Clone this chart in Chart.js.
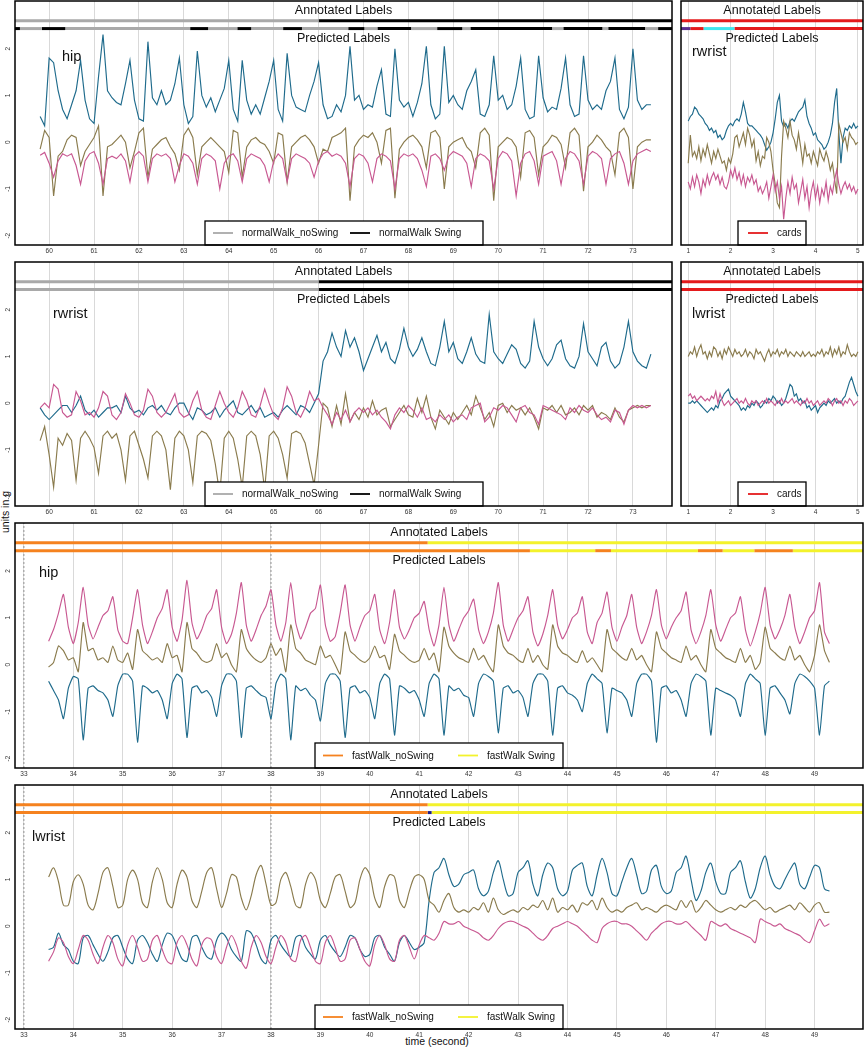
<!DOCTYPE html>
<html>
<head>
<meta charset="utf-8">
<script src="https://cdn.jsdelivr.net/npm/chart.js@4.4.1/dist/chart.umd.min.js"></script>
<style>
  html, body { margin: 0; padding: 0; background: #fff; }
  #page { position: relative; width: 866px; height: 1050px; overflow: hidden;
          font-family: "Liberation Sans", Arial, Helvetica, sans-serif; color: #111; }
  #ytitle { position: absolute; left: -35px; top: 505px; width: 80px; height: 14px; line-height: 14px;
            text-align: center; font-size: 10.5px; transform: rotate(-90deg); }
  #xtitle { position: absolute; left: 387px; top: 1035px; width: 100px; text-align: center; font-size: 10.5px; }
</style>
</head>
<body>
<div id="page">
  <div id="ytitle">units in g</div>
  <div id="xtitle">time (second)</div>
</div>
<script>
// Accelerometer traces, values in hundredths of g, one row per second (or half second)

// hip, normal walk, from 59.8 s every 0.1 s
const hipNormalBlue = [
  55, 35,
  180, 170, 110, 70, 50, 80, 110, 175, 90, 50,
  40, 140, 230, 110, 95, 85, 80, 125, 175, 90,
  50, 45, 215, 95, 80, 110, 80, 90, 125, 180,
  80, 40, 55, 195, 100, 75, 95, 65, 90, 115,
  175, 70, 45, 175, 90, 60, 80, 60, 95, 130,
  175, 70, 45, 190, 100, 75, 70, 65, 100, 130,
  170, 80, 50, 55, 80, 65, 100, 205, 90, 100,
  70, 80, 75, 120, 155, 60, 55, 200, 90, 75,
  85, 55, 85, 125, 205, 80, 50, 60, 205, 85,
  100, 80, 70, 110, 130, 155, 60, 55, 80, 185,
  90, 100, 70, 80, 120, 180, 70, 50, 55, 185,
  95, 65, 75, 70, 115, 180, 80, 55, 60, 185,
  90, 70, 80, 70, 110, 130, 180, 70, 50, 75,
  200, 90, 70, 80, 80
];
const hipNormalOlive = [
  -15, 25,
  10, -115, -30, -20, 5, 15, 10, -50, -20, -5,
  10, 35, -115, -10, -5, 5, 15, 0, -55, -20,
  20, 30, -75, -15, -5, 5, 10, -10, -25, -60,
  15, 30, 10, -70, -10, 0, 10, 0, -10, -20,
  -65, 25, 20, -75, -10, 5, 10, 0, -5, -20,
  -45, 20, 15, -85, -10, 0, 10, 15, 5, -10,
  -45, -15, -20, 10, 15, 20, 30, -125, -10, 5,
  15, 10, 20, 0, -45, 25, 30, -120, -15, 0,
  10, 15, 5, -10, -55, 20, 25, 10, -100, -10,
  0, 5, 10, -10, -20, -55, 20, 30, 15, -125,
  -10, 0, 10, 5, -10, -75, 20, 25, 10, -70,
  -10, 0, 15, 10, -5, -55, 20, 30, 15, -105,
  -10, 0, 15, 5, -10, -20, -70, 20, 30, 10,
  -100, -10, 0, 5, 5
];
const hipNormalPink = [
  -28, -22,
  -45, -75, -40, -25, -30, -25, -50, -90, -40, -25,
  -20, -45, -90, -35, -30, -35, -25, -40, -85, -30,
  -20, -30, -85, -35, -25, -30, -25, -35, -85, -50,
  -25, -30, -45, -90, -35, -25, -30, -40, -100, -45,
  -30, -25, -40, -85, -35, -25, -30, -35, -50, -85,
  -40, -25, -35, -85, -35, -25, -30, -35, -45, -75,
  -40, -25, -20, -30, -25, -30, -45, -95, -35, -25,
  -30, -45, -85, -35, -25, -30, -40, -100, -35, -25,
  -30, -25, -35, -60, -95, -30, -25, -35, -60, -30,
  -20, -25, -30, -45, -95, -35, -25, -30, -40, -100,
  -35, -20, -25, -40, -115, -45, -25, -20, -40, -90,
  -30, -25, -20, -40, -90, -35, -20, -25, -40, -90,
  -30, -20, -25, -35, -90, -35, -25, -20, -45, -90,
  -40, -25, -20, -15, -20
];

// right wrist, normal walk, from 59.8 s every 0.1 s
const rwristNormalBlue = [
  -10, -25,
  -35, -25, -15, -5, -5, -20, -5, 15, -15, -25,
  -15, -30, -20, -10, -10, -5, -20, 15, -10, -20,
  -15, -25, -10, -5, -15, -5, -20, -25, -10, 0,
  0, -20, -35, -10, -15, -25, -20, -10, -30, -15,
  -5, 5, -20, -25, -15, -5, -20, -10, -30, -25,
  -20, -30, -15, -5, -15, -25, -5, -10, -20, 0,
  20, 90, 110, 150, 120, 100, 155, 120, 140, 110,
  70, 95, 120, 145, 110, 130, 95, 85, 115, 160,
  120, 100, 115, 140, 110, 85, 80, 120, 175, 110,
  130, 95, 85, 110, 140, 105, 90, 85, 190, 110,
  95, 85, 105, 125, 115, 85, 75, 90, 175, 120,
  95, 80, 95, 125, 135, 95, 80, 75, 100, 170,
  110, 95, 80, 120, 130, 90, 75, 85, 120, 175,
  110, 90, 80, 75, 105
];
const rwristNormalOlive = [
  -80, -50,
  -110, -180, -75, -90, -65, -80, -165, -75, -60, -75,
  -95, -150, -70, -60, -75, -65, -100, -165, -70, -60,
  -90, -120, -160, -70, -60, -70, -100, -185, -75, -60,
  -70, -100, -170, -70, -60, -65, -80, -130, -195, -75,
  -60, -75, -120, -180, -70, -60, -70, -110, -185, -70,
  -60, -75, -110, -160, -65, -60, -65, -85, -130, -175,
  -90, 0, -10, -50, -5, -45, 20, -40, -20, -35,
  -10, -30, 5, -25, -15, -10, -50, -35, -20, -5,
  -25, -30, 10, -20, 15, -30, -55, -15, -30, -45,
  -20, -35, -20, -5, -25, 15, -10, -35, -20, -50,
  -5, 0, -20, -5, -15, -10, -25, -10, -30, -55,
  -10, -15, -5, -20, -5, -25, -20, -10, -25, -5,
  -15, -5, -30, -20, -25, -35, -10, -30, -40, -15,
  -10, -5, -10, -5, -5
];
const rwristNormalPink = [
  -10, 0,
  -10, 40, 30, -20, -30, -25, 25, 5, -25, -20,
  -30, -10, 25, 15, -25, -35, -20, 20, 0, -25,
  -30, -15, 30, 15, -20, -30, -20, 0, 20, -20,
  -30, -25, 5, 25, -15, -30, -35, -5, 25, 0,
  -20, -30, -10, 25, 5, -25, -30, -5, 30, 0,
  -25, -35, -10, 35, 15, -20, -30, -10, 25, 5,
  10, -10, -25, -45, -20, -35, -15, -40, -20, -10,
  -20, -10, -25, -15, -30, -40, -55, -25, -10, -20,
  -5, -15, -30, -10, -35, -30, -40, -25, -35, -25,
  -40, -30, -25, -35, -10, -5, 0, -40, -30, -10,
  -15, -5, -10, -25, -40, -10, -5, -20, -25, -45,
  -5, -10, -15, -20, -25, -35, -10, -20, -5, -15,
  -20, -10, -25, -35, -30, -40, -15, -20, -45, -15,
  -5, -10, -5, -10, -5
];

// right wrist, cards, from 1.0 s every 0.05 s
const rwristCardsBlue = [
  45, 55, 60, 75, 70, 60, 55, 50, 40, 35,
  25, 30, 20, 25, 10, 15, 5, 10, 25, 35,
  40, 35, 45, 50, 45, 60, 85, 65, 40, 35,
  35, 30, 25, 20, 15, 8, -5, -17, -10, 0,
  20, 50, 85, 100, 45, 33, 40, 30, 45, 50,
  45, 55, 65, 70, 75, 90, 55, 40, 30, 15,
  20, 5, 0, -5, -15, -10, 0, 15, 40, 85,
  115, 20, -45, 10, 30, 25, 35, 30, 40, 30,
  35
];
const rwristCardsOlive = [
  -45, 15, -30, -20, -35, -10, -40, -15, -30, -5,
  -25, -45, -20, -35, -15, -30, -45, -40, -60, -35,
  -45, -25, 10, 15, -10, 5, 20, -5, 30, 15,
  -10, 5, -40, -20, -50, -30, -35, 10, 0, -20,
  -60, -90, -130, -140, -30, 45, 30, 10, 45, 15,
  5, -15, 20, -10, -45, -5, -30, -25, -45, -20,
  -35, -50, -15, -30, -40, -20, -35, -60, -45, -80,
  -110, 40, 20, 0, 10, -15, 20, 10, 5, -5,
  0
];
const rwristCardsPink = [
  -85, -100, -75, -95, -70, -85, -110, -80, -95, -70,
  -90, -75, -65, -80, -70, -90, -75, -95, -100, -85,
  -60, -75, -55, -80, -65, -90, -70, -95, -75, -85,
  -70, -90, -80, -105, -95, -110, -100, -85, -120, -95,
  -70, -105, -85, -120, -95, -165, -120, -85, -110, -75,
  -100, -90, -130, -105, -80, -120, -95, -140, -105, -85,
  -120, -95, -130, -100, -115, -85, -125, -95, -110, -80,
  -60, -90, -110, -95, -85, -100, -90, -105, -95, -110,
  -100
];

// left wrist, cards, from 1.0 s every 0.05 s
const lwristCardsBlue = [
  0, 0, 5, 0, 5, 0, -5, -10, -15, -20,
  -15, -10, -15, -5, -10, 5, 10, 20, 25, 30,
  15, 10, 5, 0, -5, -15, -10, -15, -5, -10,
  0, -5, 5, 0, -10, -5, 5, 0, 10, 5,
  15, 10, 0, 5, -5, 0, 10, 25, 40, 35,
  15, 20, 5, 10, 0, 5, -10, -5, -15, -10,
  -5, -20, -10, -5, 0, -5, 5, 0, 5, 10,
  0, 5, 0, 10, 15, 30, 45, 55, 40, 25,
  15
];
const lwristCardsOlive = [
  100, 110, 105, 120, 100, 115, 125, 105, 110, 95,
  110, 100, 120, 115, 100, 110, 95, 115, 105, 120,
  110, 100, 115, 105, 110, 100, 105, 115, 100, 110,
  105, 95, 115, 105, 110, 100, 90, 105, 115, 100,
  110, 105, 115, 100, 110, 105, 115, 100, 110, 105,
  100, 110, 105, 100, 110, 100, 105, 110, 100, 105,
  100, 110, 105, 115, 100, 110, 105, 120, 100, 115,
  105, 120, 100, 110, 105, 125, 110, 100, 105, 100,
  110
];
const lwristCardsPink = [
  15, 20, 10, 15, 5, 10, 15, 10, 5, 10,
  5, 15, 10, 25, 0, 20, 5, -5, 0, 5,
  -5, 0, 5, 10, 0, 5, 0, 10, 0, -5,
  5, 0, 5, -5, 0, 5, 0, 10, 0, 5,
  0, -5, 5, 0, 10, 0, 5, 0, 5, 10,
  0, 5, 0, -5, 5, 0, 10, 0, 5, -5,
  0, 5, -5, 0, 5, 0, 10, 5, -5, 5,
  10, 0, 5, -5, 5, 0, 10, 5, -5, 0,
  5
];

// hip, fast walk, from 33.5 s every 0.1 s
const hipFastBlue = [
  -35, -55, -75, -115, -50,
  -25, -30, -160, -50, -45, -55, -60, -75, -110, -45,
  -20, -20, -35, -165, -45, -50, -60, -55, -75, -115,
  -40, -20, -30, -155, -50, -45, -60, -55, -70, -110,
  -45, -20, -20, -35, -155, -50, -45, -55, -65, -70,
  -115, -40, -20, -30, -160, -45, -55, -50, -65, -75,
  -120, -40, -20, -20, -35, -155, -50, -45, -60, -55,
  -70, -115, -40, -20, -30, -150, -45, -50, -60, -55,
  -75, -110, -40, -20, -30, -150, -45, -55, -50, -65,
  -70, -110, -40, -20, -25, -35, -145, -50, -45, -60,
  -55, -70, -110, -40, -20, -20, -35, -150, -50, -45,
  -60, -65, -75, -100, -40, -20, -30, -40, -145, -50,
  -55, -60, -75, -110, -40, -20, -20, -35, -165, -50,
  -45, -60, -55, -75, -110, -40, -20, -25, -35, -150,
  -50, -55, -60, -65, -75, -110, -40, -20, -30, -40,
  -150, -50, -45, -60, -75, -105, -40, -20, -25, -35,
  -50, -150, -45, -35
];
const hipFastOlive = [
  -5, 5, 40, 30, 10,
  15, -15, 90, 30, 35, 10, 15, 5, 40, 10,
  5, 25, -10, 75, 30, 20, 10, 15, 5, 45,
  15, 20, -15, 90, 35, 25, 10, 5, 10, 45,
  15, 25, 0, -15, 75, 35, 20, 10, 5, 15,
  45, 20, 35, -15, 85, 35, 25, 10, 5, 0,
  40, 15, 20, 0, -20, 70, 30, 20, 10, 5,
  15, 40, 15, 20, -10, 65, 30, 20, 10, 5,
  10, 35, 10, 25, -15, 80, 40, 25, 15, 10,
  5, 35, 10, 20, 0, -15, 85, 40, 25, 20,
  10, 5, 35, 5, 20, 0, -10, 85, 40, 25,
  20, 10, 5, 30, 5, 15, 0, -15, 75, 35,
  25, 15, 10, 35, 10, 20, 0, -15, 70, 35,
  25, 15, 10, 5, 40, 10, 20, 0, -15, 75,
  35, 25, 15, 10, 5, 35, 5, 20, -10, 5,
  80, 35, 25, 15, 10, 40, 10, 20, 0, -15,
  20, 85, 30, 5
];
const hipFastPink = [
  50, 75, 110, 150, 80,
  45, 90, 165, 85, 55, 80, 105, 115, 145, 75,
  50, 45, 100, 160, 85, 45, 70, 100, 120, 160,
  80, 50, 95, 180, 90, 55, 75, 105, 120, 160,
  80, 45, 65, 110, 175, 85, 50, 75, 105, 125,
  160, 85, 50, 90, 175, 90, 55, 80, 110, 120,
  170, 85, 50, 60, 110, 170, 85, 50, 80, 105,
  115, 150, 75, 45, 90, 160, 80, 55, 75, 100,
  110, 135, 75, 40, 85, 165, 85, 50, 75, 100,
  115, 140, 75, 45, 70, 110, 175, 85, 50, 75,
  100, 115, 145, 70, 40, 65, 105, 160, 85, 55,
  75, 100, 110, 145, 70, 45, 90, 110, 155, 80,
  50, 80, 105, 150, 80, 45, 70, 105, 160, 85,
  55, 80, 100, 115, 155, 75, 45, 70, 105, 160,
  85, 50, 75, 100, 110, 145, 75, 40, 70, 110,
  165, 85, 55, 75, 105, 150, 80, 45, 70, 100,
  115, 175, 70, 45
];

// left wrist, fast walk, from 33.5 s every 0.1 s
const lwristFastBlue = [
  -50, -45, -15, -40, -50,
  -75, -80, -25, -20, -40, -60, -75, -55, -25, -20,
  -45, -70, -80, -30, -20, -35, -60, -75, -40, -15,
  -20, -45, -70, -75, -25, -20, -45, -65, -70, -30,
  -15, -25, -50, -65, -75, -10, -15, -40, -70, -80,
  -30, -20, -40, -55, -65, -25, -20, -45, -60, -70,
  -30, -20, -40, -55, -65, -45, -20, -25, -50, -65,
  -60, -25, -20, -45, -60, -75, -35, -20, -35, -50,
  -45, -35, 55, 115, 125, 145, 110, 85, 90, 110,
  115, 120, 80, 65, 75, 115, 140, 100, 65, 70,
  115, 125, 140, 90, 65, 110, 135, 125, 80, 65,
  75, 120, 130, 135, 85, 65, 110, 145, 115, 70,
  65, 95, 125, 145, 110, 70, 75, 120, 130, 85,
  70, 75, 115, 125, 150, 100, 55, 75, 115, 135,
  95, 70, 70, 115, 125, 140, 95, 60, 80, 125,
  150, 110, 85, 80, 100, 120, 135, 90, 80, 105,
  130, 125, 80, 75
];
const lwristFastOlive = [
  105, 125, 95, 45, 45,
  95, 110, 90, 45, 35, 70, 115, 125, 85, 40,
  45, 100, 120, 100, 50, 40, 95, 125, 100, 50,
  40, 90, 120, 105, 55, 40, 75, 115, 125, 80,
  40, 70, 110, 105, 60, 35, 65, 110, 130, 90,
  45, 50, 100, 115, 85, 45, 40, 90, 115, 100,
  55, 40, 70, 105, 110, 75, 40, 50, 100, 125,
  110, 60, 40, 85, 110, 105, 55, 40, 75, 105,
  110, 100, 55, 45, 30, 55, 70, 40, 30, 35,
  30, 40, 35, 50, 30, 60, 35, 25, 30, 35,
  30, 40, 35, 45, 40, 55, 35, 60, 30, 40,
  35, 45, 30, 50, 45, 55, 35, 60, 40, 30,
  35, 30, 40, 45, 50, 35, 40, 35, 30, 40,
  45, 40, 35, 55, 40, 55, 30, 40, 55, 45,
  35, 30, 35, 40, 35, 45, 40, 50, 55, 45,
  35, 40, 30, 35, 40, 45, 35, 50, 40, 30,
  45, 50, 30, 30
];
const lwristFastPink = [
  -75, -55, -25, -35, -65,
  -80, -50, -20, -30, -60, -80, -45, -20, -35, -70,
  -85, -40, -20, -45, -75, -70, -30, -20, -50, -75,
  -80, -35, -20, -40, -70, -85, -40, -25, -30, -65,
  -80, -45, -20, -40, -75, -90, -45, -20, -35, -65,
  -80, -45, -20, -35, -70, -75, -30, -20, -45, -75,
  -80, -35, -20, -45, -75, -70, -30, -25, -50, -75,
  -85, -40, -20, -40, -70, -75, -30, -20, -45, -70,
  -40, -20, -25, -30, -15, 10, 5, 5, 10, 0,
  -5, -10, -15, -25, -30, -20, -5, 5, 10, 10,
  5, 0, -5, -15, -25, -30, -20, -5, 0, 5,
  10, 5, 0, -10, -20, -30, -35, -5, 5, 10,
  10, 5, 5, 0, -10, -20, -30, -15, -5, 5,
  10, 10, 5, 5, 10, 0, -10, -20, -30, 10,
  5, 0, 5, -5, -10, -15, -20, -25, -35, 15,
  10, 5, 0, 5, -5, -10, -15, -20, -30, -35,
  -10, 15, 0, 5
];

// label tracks: [start s, end s, label]
const NS = 'normalWalk_noSwing', SW = 'normalWalk Swing';
const FN = 'fastWalk_noSwing', FS = 'fastWalk Swing';
const normalAnnotated = [[59.24, 66, NS], [66, 73.87, SW]];
const hipNormalPredicted = [
  [59.24, 59.35, SW], [59.35, 59.84, NS], [59.84, 60.36, SW], [60.36, 63.14, NS],
  [63.14, 63.54, SW], [63.54, 64.19, NS], [64.19, 64.5, SW], [64.5, 65.21, NS],
  [65.21, 65.63, SW], [65.63, 66.66, NS], [66.66, 67.02, SW], [67.02, 67.31, NS],
  [67.31, 68.06, SW], [68.06, 68.64, NS], [68.64, 69.2, SW], [69.2, 69.38, NS],
  [69.38, 71.2, SW], [71.2, 71.45, NS], [71.45, 72.32, SW], [72.32, 72.45, NS],
  [72.45, 73.27, SW], [73.27, 73.56, NS], [73.56, 73.87, SW]
];
const rwristNormalPredicted = [[59.24, 66, NS], [66, 73.87, SW]];
const cardsAnnotated = [[0.83, 5.12, 'cards']];
const rwristCardsPredicted = [[0.83, 1.05, 'other1'], [1.05, 1.36, 'cards'], [1.36, 2.09, 'other2'], [2.09, 5.12, 'cards']];
const lwristCardsPredicted = [[0.83, 5.12, 'cards']];
const fastAnnotated = [[32.82, 41.17, FN], [41.17, 49.98, FS]];
const hipFastPredicted = [
  [32.82, 43.24, FN], [43.24, 44.56, FS], [44.56, 44.88, FN], [44.88, 46.64, FS],
  [46.64, 47.14, FN], [47.14, 47.78, FS], [47.78, 48.56, FN], [48.56, 49.98, FS]
];
const lwristFastPredicted = [[32.82, 41.17, FN], [41.17, 41.25, 'other3'], [41.25, 49.98, FS]];

// tick labels
const normalTicks = [60, 61, 62, 63, 64, 65, 66, 67, 68, 69, 70, 71, 72, 73];
const cardsTicks = [1, 2, 3, 4, 5];
const fastTicks = [33, 34, 35, 36, 37, 38, 39, 40, 41, 42, 43, 44, 45, 46, 47, 48, 49];
const yTicks = [-2, -1, 0, 1, 2];
const fastMarks = [33, 38];

const fontFamily = '"Liberation Sans", Arial, Helvetica, sans-serif';
const seriesColors = ['#1f6b8c', '#8a7b4d', '#c85891'];
const labelColors = {
  'normalWalk_noSwing': '#a9a9a9',
  'normalWalk Swing': '#000000',
  'cards': '#e41a1c',
  'other1': '#5a2c8e',
  'other2': '#40e6ee',
  'fastWalk_noSwing': '#f5821f',
  'fastWalk Swing': '#f3f22c',
  'other3': '#1c1c8a'
};
const trackY = { annotated: 2.6, predicted: 2.43 };

const panels = [
  { box: [15, 1, 672, 245], xRange: [59.24, 73.87], xTicks: normalTicks, yAxis: true,
    t0: 59.8, dt: 0.1, series: [hipNormalBlue, hipNormalOlive, hipNormalPink], smooth: 0,
    annotated: normalAnnotated, predicted: hipNormalPredicted, name: 'hip', nameAt: [47, 56],
    legend: { x: 190, w: 278, h: 24, items: [[NS, 8], [SW, 145]] } },
  { box: [681, 1, 863, 245], xRange: [0.83, 5.12], xTicks: cardsTicks, yAxis: false,
    t0: 1, dt: 0.05, series: [rwristCardsBlue, rwristCardsOlive, rwristCardsPink], smooth: 0,
    annotated: cardsAnnotated, predicted: rwristCardsPredicted, name: 'rwrist', nameAt: [11, 51],
    legend: { x: 57, w: 68, h: 24, items: [['cards', 10]] } },
  { box: [15, 262, 672, 506], xRange: [59.24, 73.87], xTicks: normalTicks, yAxis: true,
    t0: 59.8, dt: 0.1, series: [rwristNormalBlue, rwristNormalOlive, rwristNormalPink], smooth: 0,
    annotated: normalAnnotated, predicted: rwristNormalPredicted, name: 'rwrist', nameAt: [38, 52],
    legend: { x: 190, w: 278, h: 24, items: [[NS, 8], [SW, 145]] } },
  { box: [681, 262, 863, 506], xRange: [0.83, 5.12], xTicks: cardsTicks, yAxis: false,
    t0: 1, dt: 0.05, series: [lwristCardsBlue, lwristCardsOlive, lwristCardsPink], smooth: 0,
    annotated: cardsAnnotated, predicted: lwristCardsPredicted, name: 'lwrist', nameAt: [11, 52],
    legend: { x: 57, w: 68, h: 24, items: [['cards', 10]] } },
  { box: [15, 523, 863, 768], xRange: [32.82, 49.98], xTicks: fastTicks, yAxis: true, marks: fastMarks,
    t0: 33.5, dt: 0.1, series: [hipFastBlue, hipFastOlive, hipFastPink], smooth: 0.15,
    annotated: fastAnnotated, predicted: hipFastPredicted, name: 'hip', nameAt: [24, 50],
    legend: { x: 300, w: 248, h: 25, items: [[FN, 8], [FS, 143]] } },
  { box: [15, 785, 863, 1029], xRange: [32.82, 49.98], xTicks: fastTicks, yAxis: true, marks: fastMarks,
    t0: 33.5, dt: 0.1, series: [lwristFastBlue, lwristFastOlive, lwristFastPink], smooth: 0.3,
    annotated: fastAnnotated, predicted: lwristFastPredicted, name: 'lwrist', nameAt: [17, 52],
    legend: { x: 300, w: 248, h: 24, items: [[FN, 8], [FS, 143]] } }
];

// Titles, panel name, legend box and frame
const panelDecor = {
  id: 'panelDecor',
  afterDraw(chart, args, opts) {
    const { ctx, chartArea: a } = chart;
    ctx.save();
    ctx.fillStyle = '#111';
    ctx.textAlign = 'center';
    ctx.textBaseline = 'middle';
    ctx.font = `12.5px ${fontFamily}`;
    const cx = (a.left + a.right) / 2;
    ctx.fillText('Annotated Labels', cx, a.top + 9.5);
    ctx.fillText('Predicted Labels', cx, a.top + 37.5);

    ctx.textAlign = 'left';
    ctx.font = `14.5px ${fontFamily}`;
    ctx.fillText(opts.name, a.left + opts.nameAt[0], a.top + opts.nameAt[1]);

    const lg = opts.legend;
    const lx = a.left + lg.x, ly = a.bottom - lg.h, my = ly + lg.h / 2;
    ctx.fillStyle = '#fff';
    ctx.fillRect(lx, ly, lg.w, lg.h);
    ctx.strokeStyle = '#000';
    ctx.lineWidth = 1.3;
    ctx.strokeRect(lx, ly, lg.w, lg.h);
    ctx.font = `10px ${fontFamily}`;
    lg.items.forEach(([key, at]) => {
      ctx.strokeStyle = labelColors[key];
      ctx.lineWidth = 1.8;
      ctx.beginPath();
      ctx.moveTo(lx + at, my);
      ctx.lineTo(lx + at + 20, my);
      ctx.stroke();
      ctx.fillStyle = '#111';
      ctx.fillText(key, lx + at + 29, my + 0.5);
    });

    ctx.strokeStyle = '#000';
    ctx.lineWidth = 1.5;
    ctx.strokeRect(a.left, a.top, a.right - a.left, a.bottom - a.top);
    ctx.restore();
  }
};

const page = document.getElementById('page');

panels.forEach(p => {
  const yW = p.yAxis ? 15 : 0, pad = 2, xH = 13;
  const [bl, bt, br, bb] = p.box;
  const w = br - bl + yW + 2 * pad, h = bb - bt + pad + xH;
  const canvas = document.createElement('canvas');
  canvas.width = w;
  canvas.height = h;
  canvas.style.cssText = `position:absolute;left:${bl - yW - pad}px;top:${bt - pad}px;width:${w}px;height:${h}px`;
  page.appendChild(canvas);

  const datasets = [];
  // pink on top, then olive, then blue
  [2, 1, 0].forEach(k => {
    datasets.push({
      data: p.series[k].map((v, i) => ({ x: p.t0 + i * p.dt, y: v / 100 })),
      borderColor: seriesColors[k],
      borderWidth: 1.15,
      pointRadius: 0,
      tension: p.smooth
    });
  });
  [['annotated', p.annotated], ['predicted', p.predicted]].forEach(([track, segs]) => {
    segs.forEach(([s, e, key]) => {
      datasets.push({
        data: [{ x: s, y: trackY[track] }, { x: e, y: trackY[track] }],
        borderColor: labelColors[key],
        borderWidth: 3,
        pointRadius: 0
      });
    });
  });
  (p.marks || []).forEach(m => {
    datasets.push({
      data: [{ x: m, y: -2.2 }, { x: m, y: 3.02 }],
      borderColor: '#8a8a8a',
      borderWidth: 0.9,
      borderDash: [2, 2],
      pointRadius: 0
    });
  });

  new Chart(canvas, {
    type: 'line',
    data: { datasets },
    options: {
      animation: false,
      responsive: false,
      events: [],
      layout: { padding: { left: pad, right: pad, top: pad, bottom: 0 } },
      plugins: {
        legend: { display: false },
        tooltip: { enabled: false },
        panelDecor: { name: p.name, nameAt: p.nameAt, legend: p.legend }
      },
      scales: {
        x: {
          type: 'linear',
          min: p.xRange[0],
          max: p.xRange[1],
          afterBuildTicks: s => { s.ticks = p.xTicks.map(v => ({ value: v })); },
          afterFit: s => { s.height = xH; s.paddingLeft = 0; s.paddingRight = 0; },
          ticks: {
            autoSkip: false, maxRotation: 0, padding: 2, color: '#333',
            font: { size: 6.5, family: fontFamily },
            callback: v => String(v)
          },
          grid: { color: '#d9d9d9', lineWidth: 1, drawTicks: false },
          border: { display: false }
        },
        y: {
          type: 'linear',
          display: p.yAxis,
          min: -2.2,
          max: 3.02,
          afterBuildTicks: s => { s.ticks = yTicks.map(v => ({ value: v })); },
          afterFit: s => { s.width = yW; s.paddingTop = 0; s.paddingBottom = 0; },
          ticks: {
            minRotation: 90, maxRotation: 90, crossAlign: 'center', padding: 4, color: '#333',
            font: { size: 6.5, family: fontFamily },
            callback: v => String(v)
          },
          grid: { display: false, drawTicks: false },
          border: { display: false }
        }
      }
    },
    plugins: [panelDecor]
  });
});
</script>
</body>
</html>
